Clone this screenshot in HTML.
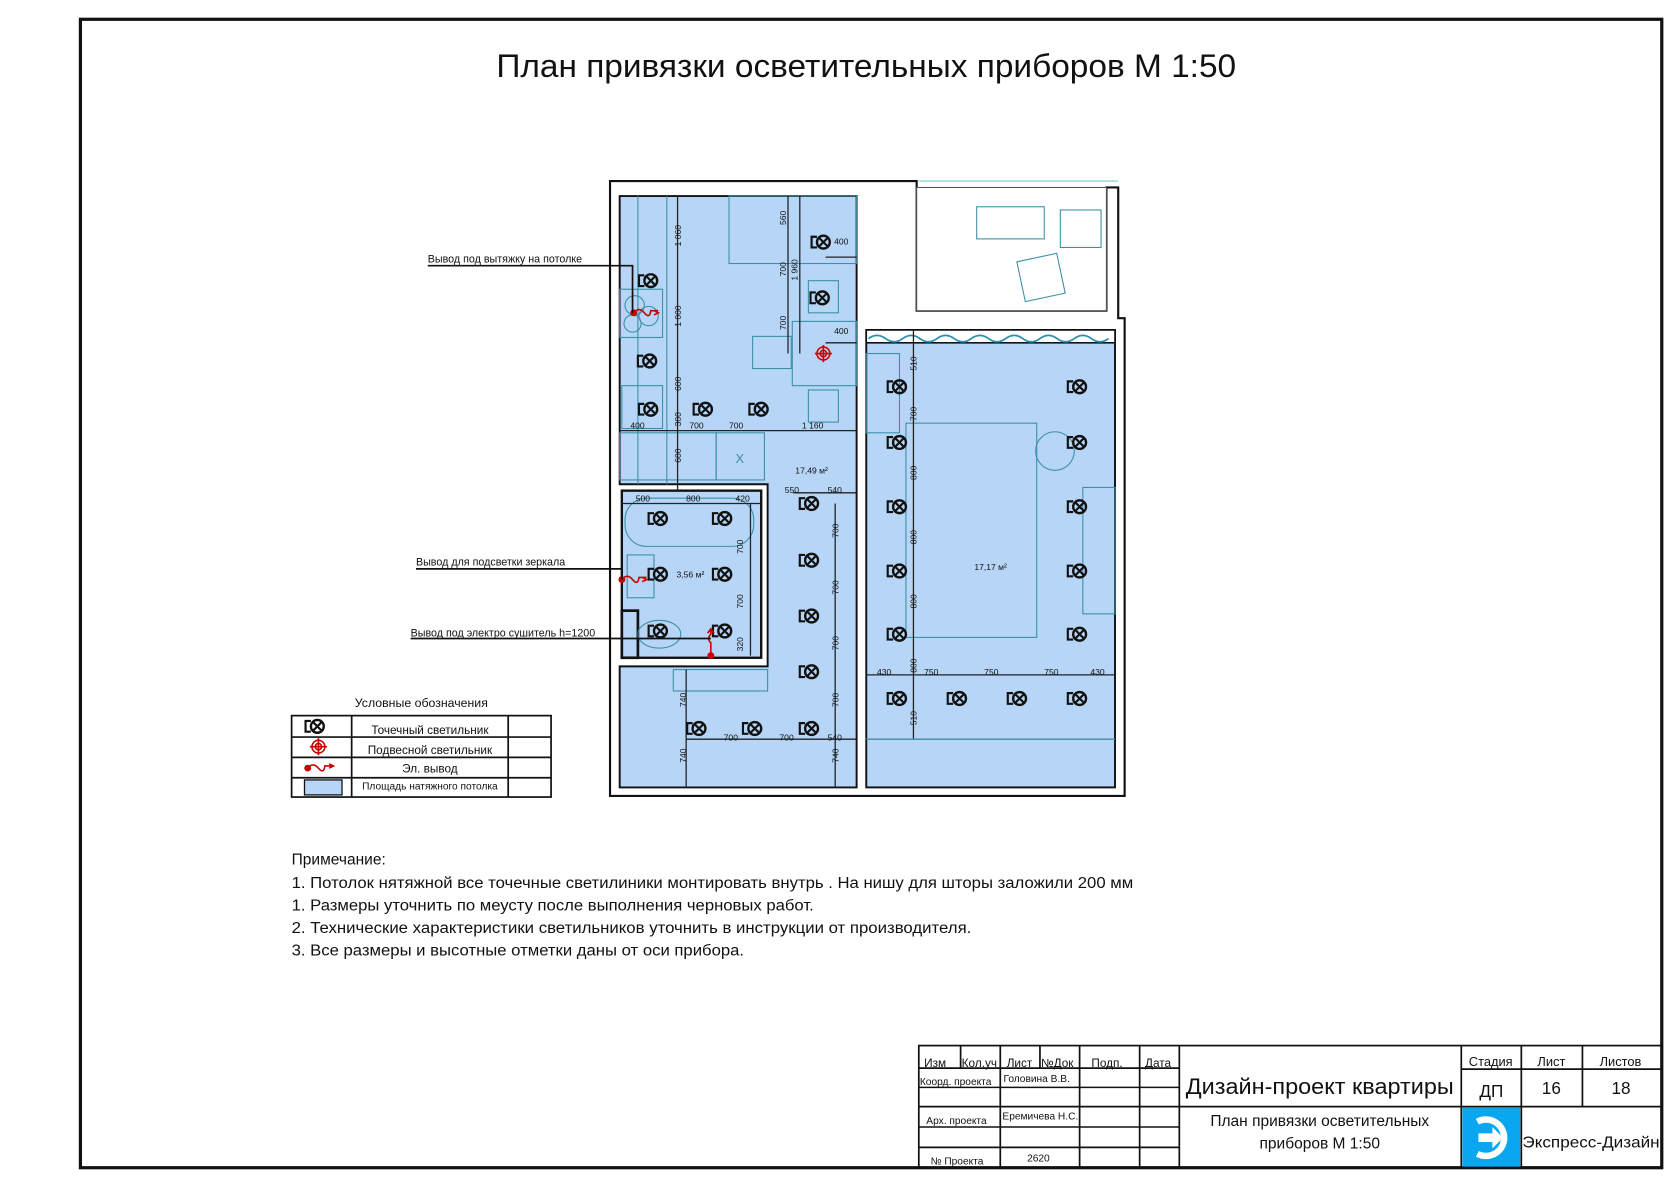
<!DOCTYPE html>
<html><head><meta charset="utf-8"><style>
html,body{margin:0;padding:0;background:#fff}
svg{display:block}
text{font-family:"Liberation Sans","DejaVu Sans",sans-serif;fill:#111}
.s{fill:none;stroke:#111;stroke-width:1.6}
.lmp circle{fill:none;stroke:#111;stroke-width:2.2}
.lmp path{fill:none;stroke:#111;stroke-width:2}
.f{fill:none;stroke:#3a8fa6;stroke-width:1}
.d{stroke:#222;stroke-width:1.2;fill:none}
.dt{font-size:8px;fill:#333}
</style></head><body>
<svg width="1680" height="1187" viewBox="0 0 1567 1108" preserveAspectRatio="none">
<rect x="75" y="18" width="1475" height="1072" fill="none" stroke="#111" stroke-width="3"/>
<text x="808" y="72" font-size="30" text-anchor="middle" textLength="690" lengthAdjust="spacingAndGlyphs">План привязки осветительных приборов М 1:50</text>

<path d="M569,743 V169 H855 V290 H1032 V175 H1043 V297 H1049 V743 Z" fill="#fff" stroke="#111" stroke-width="2"/>
<rect x="855" y="175" width="177" height="115" fill="#fff" stroke="#555" stroke-width="1"/>
<line x1="857" y1="169" x2="1043" y2="169" stroke="#7cc" stroke-width="1"/>
<rect x="911" y="193" width="63" height="30" class="f"/>
<rect x="989" y="196" width="38" height="35" class="f"/>
<rect x="952" y="240" width="38" height="38" class="f" transform="rotate(-12 971 259)"/>

<path d="M578,183 H799 V735 H578 V622 H716 V452 H578 Z" fill="#b6d5f7" stroke="#111" stroke-width="1.8"/>
<rect x="580" y="458" width="130" height="156" fill="#b6d5f7" stroke="#111" stroke-width="2.2"/>
<rect x="808" y="308" width="232" height="427" fill="#b6d5f7" stroke="#111" stroke-width="1.8"/>
<rect x="808" y="308" width="232" height="12" fill="#fff" stroke="#111" stroke-width="1.5"/>
<path d="M810,316 q8,-6 16,0 t16,0 t16,0 t16,0 t16,0 t16,0 t16,0 t16,0 t16,0 t16,0 t16,0 t16,0 t16,0 t16,0" fill="none" stroke="#2b8fb0" stroke-width="1.6"/>
<rect x="580" y="570" width="15" height="44" fill="none" stroke="#111" stroke-width="2.5"/>

<g class="f">
<line x1="595" y1="183" x2="595" y2="452"/><line x1="622" y1="183" x2="622" y2="452"/>
<rect x="578" y="270" width="40" height="45"/><circle cx="592" cy="285" r="9"/><circle cx="605" cy="295" r="9"/><circle cx="590" cy="302" r="8"/>
<rect x="580" y="360" width="38" height="40"/>
<rect x="680" y="183" width="119" height="63"/><rect x="739" y="300" width="60" height="60"/>
<rect x="702" y="314" width="36" height="30"/><rect x="754" y="262" width="28" height="30"/><rect x="754" y="364" width="28" height="30"/>
<rect x="578" y="404" width="90" height="44"/><rect x="668" y="404" width="45" height="44"/>
<rect x="583" y="465" width="120" height="45" rx="20"/><rect x="585" y="518" width="25" height="40"/>
<ellipse cx="615" cy="592" rx="20" ry="13"/>
<rect x="628" y="625" width="88" height="20"/>
<rect x="808" y="330" width="31" height="74"/><rect x="845" y="395" width="122" height="200"/>
<circle cx="984" cy="421" r="18"/><rect x="1010" y="455" width="30" height="118"/>
</g>
<text x="690" y="432" font-size="12" style="fill:#3a8fa6" text-anchor="middle">X</text>
<text x="757" y="442" font-size="8" text-anchor="middle">17,49 м²</text>
<text x="924" y="532" font-size="8" text-anchor="middle">17,17 м²</text>
<text x="644" y="539" font-size="8" text-anchor="middle">3,56 м²</text>

<g class="d">
<line x1="632" y1="183" x2="632" y2="458"/><line x1="735" y1="183" x2="735" y2="330"/><line x1="746" y1="183" x2="746" y2="330"/>
<line x1="578" y1="402" x2="799" y2="402"/><line x1="740" y1="460" x2="799" y2="460"/>
<line x1="580" y1="470" x2="710" y2="470"/><line x1="700" y1="470" x2="700" y2="612"/>
<line x1="779" y1="470" x2="779" y2="735"/><line x1="640" y1="690" x2="799" y2="690"/>
<line x1="852" y1="308" x2="852" y2="690"/><line x1="808" y1="630" x2="1040" y2="630"/>
<line x1="808" y1="690" x2="1040" y2="690" stroke="#3a8fa6"/>
<line x1="640" y1="625" x2="640" y2="735"/><line x1="770" y1="240" x2="799" y2="240"/><line x1="770" y1="320" x2="799" y2="320"/>
</g>
<g class="dt">
<text x="588" y="400">400</text><text x="643" y="400">700</text><text x="680" y="400">700</text><text x="748" y="400">1 160</text>
<text x="593" y="468">500</text><text x="640" y="468">800</text><text x="686" y="468">420</text>
<text x="732" y="460">550</text><text x="772" y="460">540</text>
<text x="818" y="630">430</text><text x="862" y="630">750</text><text x="918" y="630">750</text><text x="974" y="630">750</text><text x="1017" y="630">430</text>
<text x="675" y="691">700</text><text x="727" y="691">700</text><text x="772" y="691">540</text>
<text x="778" y="228">400</text><text x="778" y="312">400</text>
</g>
<g class="dt">
<text transform="translate(635,230) rotate(-90)">1 060</text><text transform="translate(635,305) rotate(-90)">1 000</text>
<text transform="translate(635,365) rotate(-90)">600</text><text transform="translate(635,398) rotate(-90)">300</text><text transform="translate(635,432) rotate(-90)">600</text>
<text transform="translate(733,210) rotate(-90)">560</text><text transform="translate(733,258) rotate(-90)">700</text><text transform="translate(733,308) rotate(-90)">700</text><text transform="translate(744,262) rotate(-90)">1 960</text>
<text transform="translate(782,502) rotate(-90)">700</text><text transform="translate(782,555) rotate(-90)">700</text><text transform="translate(782,607) rotate(-90)">700</text><text transform="translate(782,660) rotate(-90)">700</text><text transform="translate(782,712) rotate(-90)">740</text>
<text transform="translate(693,517) rotate(-90)">700</text><text transform="translate(693,568) rotate(-90)">700</text><text transform="translate(693,608) rotate(-90)">320</text>
<text transform="translate(855,346) rotate(-90)">510</text><text transform="translate(855,393) rotate(-90)">700</text><text transform="translate(855,448) rotate(-90)">800</text><text transform="translate(855,508) rotate(-90)">800</text><text transform="translate(855,568) rotate(-90)">800</text><text transform="translate(855,628) rotate(-90)">800</text><text transform="translate(855,677) rotate(-90)">510</text>
<text transform="translate(640,660) rotate(-90)">740</text><text transform="translate(640,712) rotate(-90)">740</text>
</g>

<g class="lmp">
<g transform="translate(768,226)"><circle r="6"/><path d="M-4,-4L4,4M-4,4L4,-4M-6,-5H-11V5H-6"/></g>
<g transform="translate(607,262)"><circle r="6"/><path d="M-4,-4L4,4M-4,4L4,-4M-6,-5H-11V5H-6"/></g>
<g transform="translate(767,278)"><circle r="6"/><path d="M-4,-4L4,4M-4,4L4,-4M-6,-5H-11V5H-6"/></g>
<g transform="translate(606,337)"><circle r="6"/><path d="M-4,-4L4,4M-4,4L4,-4M-6,-5H-11V5H-6"/></g>
<g transform="translate(607,382)"><circle r="6"/><path d="M-4,-4L4,4M-4,4L4,-4M-6,-5H-11V5H-6"/></g>
<g transform="translate(658,382)"><circle r="6"/><path d="M-4,-4L4,4M-4,4L4,-4M-6,-5H-11V5H-6"/></g>
<g transform="translate(710,382)"><circle r="6"/><path d="M-4,-4L4,4M-4,4L4,-4M-6,-5H-11V5H-6"/></g>
<g transform="translate(616,484)"><circle r="6"/><path d="M-4,-4L4,4M-4,4L4,-4M-6,-5H-11V5H-6"/></g>
<g transform="translate(676,484)"><circle r="6"/><path d="M-4,-4L4,4M-4,4L4,-4M-6,-5H-11V5H-6"/></g>
<g transform="translate(616,536)"><circle r="6"/><path d="M-4,-4L4,4M-4,4L4,-4M-6,-5H-11V5H-6"/></g>
<g transform="translate(676,536)"><circle r="6"/><path d="M-4,-4L4,4M-4,4L4,-4M-6,-5H-11V5H-6"/></g>
<g transform="translate(616,589)"><circle r="6"/><path d="M-4,-4L4,4M-4,4L4,-4M-6,-5H-11V5H-6"/></g>
<g transform="translate(676,589)"><circle r="6"/><path d="M-4,-4L4,4M-4,4L4,-4M-6,-5H-11V5H-6"/></g>
<g transform="translate(757,470)"><circle r="6"/><path d="M-4,-4L4,4M-4,4L4,-4M-6,-5H-11V5H-6"/></g>
<g transform="translate(757,523)"><circle r="6"/><path d="M-4,-4L4,4M-4,4L4,-4M-6,-5H-11V5H-6"/></g>
<g transform="translate(757,575)"><circle r="6"/><path d="M-4,-4L4,4M-4,4L4,-4M-6,-5H-11V5H-6"/></g>
<g transform="translate(757,627)"><circle r="6"/><path d="M-4,-4L4,4M-4,4L4,-4M-6,-5H-11V5H-6"/></g>
<g transform="translate(757,680)"><circle r="6"/><path d="M-4,-4L4,4M-4,4L4,-4M-6,-5H-11V5H-6"/></g>
<g transform="translate(704,680)"><circle r="6"/><path d="M-4,-4L4,4M-4,4L4,-4M-6,-5H-11V5H-6"/></g>
<g transform="translate(652,680)"><circle r="6"/><path d="M-4,-4L4,4M-4,4L4,-4M-6,-5H-11V5H-6"/></g>
<g transform="translate(839,361)"><circle r="6"/><path d="M-4,-4L4,4M-4,4L4,-4M-6,-5H-11V5H-6"/></g>
<g transform="translate(1007,361)"><circle r="6"/><path d="M-4,-4L4,4M-4,4L4,-4M-6,-5H-11V5H-6"/></g>
<g transform="translate(839,413)"><circle r="6"/><path d="M-4,-4L4,4M-4,4L4,-4M-6,-5H-11V5H-6"/></g>
<g transform="translate(1007,413)"><circle r="6"/><path d="M-4,-4L4,4M-4,4L4,-4M-6,-5H-11V5H-6"/></g>
<g transform="translate(839,473)"><circle r="6"/><path d="M-4,-4L4,4M-4,4L4,-4M-6,-5H-11V5H-6"/></g>
<g transform="translate(1007,473)"><circle r="6"/><path d="M-4,-4L4,4M-4,4L4,-4M-6,-5H-11V5H-6"/></g>
<g transform="translate(839,533)"><circle r="6"/><path d="M-4,-4L4,4M-4,4L4,-4M-6,-5H-11V5H-6"/></g>
<g transform="translate(1007,533)"><circle r="6"/><path d="M-4,-4L4,4M-4,4L4,-4M-6,-5H-11V5H-6"/></g>
<g transform="translate(839,592)"><circle r="6"/><path d="M-4,-4L4,4M-4,4L4,-4M-6,-5H-11V5H-6"/></g>
<g transform="translate(1007,592)"><circle r="6"/><path d="M-4,-4L4,4M-4,4L4,-4M-6,-5H-11V5H-6"/></g>
<g transform="translate(839,652)"><circle r="6"/><path d="M-4,-4L4,4M-4,4L4,-4M-6,-5H-11V5H-6"/></g>
<g transform="translate(895,652)"><circle r="6"/><path d="M-4,-4L4,4M-4,4L4,-4M-6,-5H-11V5H-6"/></g>
<g transform="translate(951,652)"><circle r="6"/><path d="M-4,-4L4,4M-4,4L4,-4M-6,-5H-11V5H-6"/></g>
<g transform="translate(1007,652)"><circle r="6"/><path d="M-4,-4L4,4M-4,4L4,-4M-6,-5H-11V5H-6"/></g>
<g transform="translate(296,678)"><circle r="6"/><path d="M-4,-4L4,4M-4,4L4,-4M-6,-5H-11V5H-6"/></g>
</g>
<g stroke="#c00" fill="none" stroke-width="1.5"><circle cx="768" cy="330" r="6"/><circle cx="768" cy="330" r="3"/><path d="M760,330H776M768,322V338"/>
<circle cx="297" cy="697" r="6"/><circle cx="297" cy="697" r="3"/><path d="M289,697H305M297,689V705"/></g>
<g stroke="#c00" fill="none" stroke-width="1.5">
<path d="M591,292 q5,-6 10,0 t6,-2 H614 M610,290 l4,2 l-4,2"/>
<path d="M580,541 q5,-6 10,0 t6,-2 H603 M599,539 l4,2 l-4,2"/>
<path d="M663,612 V600 q-4,-4 0,-8 V588 M660,591 l3,-4 l3,4"/>
<path d="M287,717 q5,-6 10,0 t6,-2 H311 M307,713 l4,2 l-4,2"/>
</g>
<g fill="#c00"><circle cx="591" cy="292" r="3.2"/><circle cx="580" cy="541" r="3.2"/><circle cx="663" cy="612" r="3.2"/><circle cx="287" cy="717" r="3.2"/></g>

<g class="s" stroke-width="1">
<path d="M399,248 H590 V292"/><path d="M388,531 H580 V541"/><path d="M383,596 H663"/>
</g>
<text x="399" y="245" font-size="10">Вывод под вытяжку на потолке</text>
<text x="388" y="528" font-size="10">Вывод для подсветки зеркала</text>
<text x="383" y="594" font-size="10">Вывод под электро сушитель h=1200</text>

<text x="393" y="660" font-size="11.5" text-anchor="middle">Условные обозначения</text>
<g class="s" stroke-width="1.6">
<rect x="272" y="668" width="242" height="76"/>
<line x1="328" y1="668" x2="328" y2="744"/><line x1="474" y1="668" x2="474" y2="744"/>
<line x1="272" y1="688" x2="514" y2="688"/><line x1="272" y1="707" x2="514" y2="707"/><line x1="272" y1="726" x2="514" y2="726"/>
</g>
<rect x="284" y="728" width="35" height="14" fill="#b6d5f7" stroke="#111" stroke-width="1.2"/>
<g font-size="11" text-anchor="middle">
<text x="401" y="685">Точечный светильник</text><text x="401" y="704">Подвесной светильник</text><text x="401" y="721">Эл. вывод</text><text x="401" y="737" font-size="9.5">Площадь натяжного потолка</text>
</g>

<g font-size="14.5">
<text x="272" y="807">Примечание:</text>
<text x="272" y="829" textLength="785" lengthAdjust="spacingAndGlyphs">1. Потолок нятяжной все точечные светилиники монтировать внутрь . На нишу для шторы заложили 200 мм</text>
<text x="272" y="850" textLength="487" lengthAdjust="spacingAndGlyphs">1. Размеры уточнить по меусту после выполнения черновых работ.</text>
<text x="272" y="871" textLength="634" lengthAdjust="spacingAndGlyphs">2. Технические характеристики светильников уточнить в инструкции от производителя.</text>
<text x="272" y="892" textLength="422" lengthAdjust="spacingAndGlyphs">3. Все размеры и высотные отметки даны от оси прибора.</text>
</g>

<g class="s" stroke-width="2.2">
<rect x="857" y="976" width="693" height="114"/>
<line x1="1100" y1="976" x2="1100" y2="1090"/><line x1="1363" y1="976" x2="1363" y2="1090"/>
<line x1="1419" y1="976" x2="1419" y2="1033"/><line x1="1476" y1="976" x2="1476" y2="1033"/>
<line x1="1363" y1="998" x2="1550" y2="998"/><line x1="1100" y1="1033" x2="1550" y2="1033"/><line x1="1419" y1="1033" x2="1419" y2="1090"/>
<line x1="857" y1="997" x2="1100" y2="997"/><line x1="857" y1="1015" x2="1100" y2="1015" stroke-width="1.4"/>
<line x1="857" y1="1033" x2="1100" y2="1033"/><line x1="857" y1="1052" x2="1100" y2="1052" stroke-width="1.4"/><line x1="857" y1="1071" x2="1100" y2="1071"/>
<line x1="896" y1="976" x2="896" y2="997"/><line x1="970" y1="976" x2="970" y2="997"/>
<line x1="933" y1="976" x2="933" y2="1090"/><line x1="1007" y1="976" x2="1007" y2="1090"/><line x1="1063" y1="976" x2="1063" y2="1090"/>
</g>
<g font-size="11">
<text x="862" y="996">Изм</text><text x="897" y="996">Кол.уч</text><text x="939" y="996">Лист</text><text x="971" y="996">№Док</text><text x="1018" y="996">Подп.</text><text x="1068" y="996">Дата</text>
<text x="858" y="1013" font-size="9.5">Коорд. проекта</text><text x="936" y="1010" font-size="9.5">Головина В.В.</text>
<text x="864" y="1049" font-size="9.5">Арх. проекта</text><text x="935" y="1045" font-size="9.5">Еремичева Н.С.</text>
<text x="868" y="1087" font-size="9.5">№ Проекта</text><text x="958" y="1084" font-size="9.5">2620</text>
<text x="1370" y="995" font-size="12">Стадия</text><text x="1434" y="995" font-size="12">Лист</text><text x="1492" y="995" font-size="12">Листов</text>
</g>
<text x="1231" y="1021" font-size="21" text-anchor="middle" textLength="250" lengthAdjust="spacingAndGlyphs">Дизайн-проект квартиры</text>
<text x="1391" y="1024" font-size="16" text-anchor="middle">ДП</text>
<text x="1447" y="1021" font-size="16" text-anchor="middle">16</text>
<text x="1512" y="1021" font-size="16" text-anchor="middle">18</text>
<text x="1231" y="1051" font-size="14.5" text-anchor="middle">План привязки осветительных</text>
<text x="1231" y="1072" font-size="14.5" text-anchor="middle">приборов М 1:50</text>
<rect x="1364" y="1034" width="54" height="55" fill="#0aa6f0"/>
<path d="M1378,1047 a17,17 0 1 1 0,30" fill="none" stroke="#fff" stroke-width="6"/>
<path d="M1379,1058 H1392 V1052 L1402,1062 L1392,1072 V1066 H1379 Z" fill="#fff"/>
<text x="1484" y="1071" font-size="15" text-anchor="middle" textLength="128" lengthAdjust="spacingAndGlyphs">Экспресс-Дизайн</text>
</svg>
</body></html>
